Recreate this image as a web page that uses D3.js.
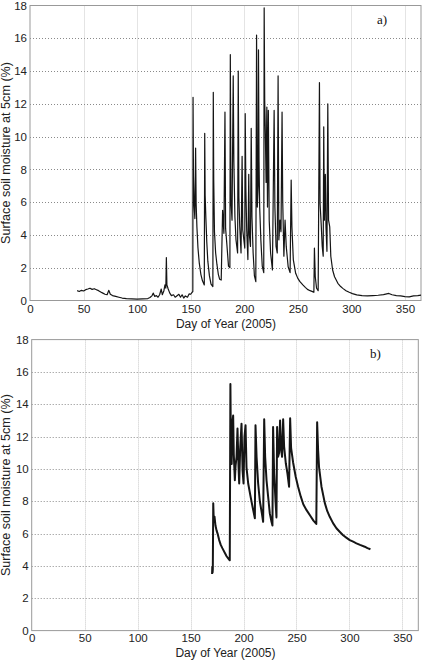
<!DOCTYPE html>
<html>
<head>
<meta charset="utf-8">
<script src="https://cdn.jsdelivr.net/npm/d3@7"></script>
<style>
  body { margin: 0; background: #fff; }
  svg { display: block; }
</style>
</head>
<body>
<div id="container"></div>
<script>
// tick values and texts
const xTicks = [0, 50, 100, 150, 200, 250, 300, 350];
const yTicks = [0, 2, 4, 6, 8, 10, 12, 14, 16, 18];
const xLabel = "Day of Year (2005)";
const yLabel = "Surface soil moisture at 5cm (%)";
const panelNames = ["a)", "b)"];

// panel a) : [day, moisture %]
const seriesA = [
  [44,0.6],[46,0.55],[48,0.62],[50,0.58],[52,0.66],[54,0.7],[56,0.75],[58,0.68],[60,0.72],[62,0.66],
  [64,0.6],[66,0.52],[68,0.45],[70,0.38],[72,0.35],[73.5,0.62],[75,0.38],[77,0.3],[80,0.25],[83,0.2],
  [86,0.15],[90,0.12],[95,0.1],[100,0.08],[105,0.1],[110,0.12],[112,0.18],[114,0.3],[115,0.45],[116.5,0.25],
  [118,0.3],[119.5,0.2],[121,0.35],[122.5,0.7],[123.5,0.35],[125,0.6],[126,0.95],[126.8,0.75],[127.3,2.62],[127.8,0.95],
  [129,0.7],[130.5,0.45],[132,0.3],[134,0.35],[135.5,0.2],[137,0.28],[139,0.38],[140.5,0.2],[142,0.35],[143.5,0.15],
  [145,0.28],[147,0.2],[148.5,0.4],[150,0.38],[151.3,0.5],
  [152,0.55],[152.2,12.4],[152.6,7.6],[153.2,5.8],[153.9,5.0],[154.6,9.3],[155.1,5.9],[155.8,4.5],[156.8,3.2],[158,2.3],
  [159.5,1.6],[161,1.2],[162.7,0.95],
  [163.1,10.2],[163.5,6.4],[164.2,5.0],[165,3.6],[166,2.4],[167.5,1.5],[169,1.0],[170.7,0.85],
  [171.1,12.7],[171.5,7.4],[172.2,4.2],[173.3,2.9],[174.5,2.2],[175.8,1.6],[177,1.3],[178.5,1.25],
  [179.8,5.5],[181,4.1],[182,11.5],[182.6,4.4],[183.8,3.4],[185.3,2.1],[186.6,2.0],
  [187,15.0],[187.6,6.1],[188.6,4.9],[189.7,13.7],[190.3,8.5],[191.3,5.1],[192.3,3.7],[193.8,2.9],
  [194.4,14.0],[195,6.3],[195.8,4.5],[197,2.9],[198,8.8],[198.6,4.3],[199.8,3.6],[200.5,3.2],
  [200.9,11.4],[201.5,6.9],[202.3,4.3],[203.4,2.5],[204.2,7.7],[204.8,4.0],[205.8,3.3],[206.5,10.5],[207.2,5.1],[208.3,2.9],
  [209.5,1.5],[210.8,1.15],
  [211.5,16.2],[212.2,5.7],[213.0,7.0],[213.3,15.3],[213.8,8.5],[214.4,5.7],[215.5,3.7],[216.8,2.1],[218.2,1.7],
  [218.6,17.85],[219.1,12.2],[219.7,10.2],[220.4,7.2],[221.1,11.8],[221.7,5.7],[222.5,11.6],[223.3,4.9],[224.6,2.9],[226.3,1.86],
  [227.9,11.6],[228.6,5.7],[229.7,3.3],[230.8,2.9],[231.6,13.7],[232.3,3.7],[233.4,4.9],[234.3,4.2],[235.3,11.5],[235.9,6.1],
  [237,2.7],[238.1,4.9],[239.2,3.3],[241,2.06],[242.8,1.7],
  [243.8,7.35],[244.5,4.5],[245.8,2.5],[248,1.66],[250,1.35],[252,1.15],[254.7,0.95],[257,0.8],[259,0.68],[261.5,0.6],
  [263.7,0.54],[265,0.5],[265.5,3.2],[266.3,1.45],[267.5,0.75],[269,0.6],
  [270.2,13.3],[270.8,5.9],[271.8,4.7],[272.8,3.3],[273.7,2.7],[274.2,10.6],[274.8,4.9],[275.7,7.7],[276.3,4.5],[277.2,3.0],
  [278,12.0],[278.7,4.9],[279.8,4.5],[280.8,2.7],[282.5,1.86],[284.3,1.45],[287.4,1.05],[290,0.85],[292,0.74],[295,0.6],
  [298,0.5],[301,0.42],[305,0.34],[310,0.3],[315,0.28],[320,0.3],[325,0.32],[330,0.36],[335,0.43],[338,0.35],
  [342,0.3],[346,0.28],[350,0.24],[354,0.22],[358,0.28],[362,0.3],[365,0.33]
];

// panel b) : [day, moisture %]
const seriesB = [
  [170.3,3.5],[170.5,3.95],[170.8,3.6],[171.0,3.8],[171.4,7.87],[171.8,7.0],[172.6,7.05],[173.5,6.5],[174.5,6.2],[175.5,6.0],
  [177,5.6],[178.5,5.3],[180,5.1],[182.4,4.8],[184,4.6],[185.5,4.47],[187,4.35],
  [187.6,15.25],[188.2,10.4],[188.8,10.3],[189.3,12.8],[190.2,13.3],[190.8,10.9],[191.8,9.3],[192.5,10.2],[193.4,10.75],
  [194.3,12.5],[195.3,10.1],[195.9,9.1],[196.8,11.2],[198.1,12.8],[199.1,9.9],[200,9.1],[200.9,12.0],[201.9,12.7],[202.8,10.1],
  [204.4,9.1],[206.6,8.3],[208.5,7.66],[210.7,6.95],
  [211.3,12.7],[212.3,10.75],[213.8,9.1],[215.4,8.0],[217.3,7.25],[218.5,6.73],
  [219.5,13.07],[220.4,10.75],[221.7,9.3],[223.2,8.3],[224.8,7.25],[226.4,6.73],[227.3,6.5],
  [227.9,12.6],[228.9,9.7],[230.2,8.0],[231.1,7.0],[231.7,12.6],[232.6,10.75],[233.6,11.0],[234.5,13.0],[235.5,11.2],
  [236.4,10.75],[237.4,13.07],[238.3,11.4],[239.9,10.35],[241.5,9.7],[243,8.9],
  [244,13.13],[244.9,11.3],[246.8,10.4],[249.3,9.5],[251.5,8.9],[254,8.3],[256.5,7.8],[259.5,7.45],[263,7.1],[266,6.8],
  [268.7,6.6],
  [269.5,12.88],[270.4,11.17],[271.3,10.1],[273.6,8.9],[276.7,7.9],[279,7.4],[281.4,7.04],[284.5,6.65],[287.7,6.33],[291,6.1],
  [294,5.9],[297,5.75],[300.3,5.6],[303.5,5.5],[306.6,5.4],[310,5.3],[314.4,5.19],[317,5.1],[319.8,5.03]
];

const width = 427, height = 665;

const panels = [
  { data: seriesA, name: panelNames[0], left: 30,   right: 421,   top: 5.5,   bottom: 300.5,
    lw: 1.2, nameX: 377, nameY: 24,  xLabY: 327.5, pad: 4 },
  { data: seriesB, name: panelNames[1], left: 31.7, right: 418.3, top: 339.6, bottom: 630.6,
    lw: 2.0, nameX: 370, nameY: 358, xLabY: 656.5, pad: 3.5 }
];

const svg = d3.select("#container")
  .append("svg")
    .attr("width", width)
    .attr("height", height)
    .attr("font-family", "'Liberation Sans', Arial, sans-serif");

panels.forEach(p => {
  const x = d3.scaleLinear().domain([0, 365]).range([p.left, p.right]);
  const y = d3.scaleLinear().domain([0, 18]).range([p.bottom, p.top]);
  const g = svg.append("g");

  // grid
  g.append("g")
      .attr("stroke", "#c8c8c8")
      .attr("stroke-width", 1)
      .attr("stroke-dasharray", "1,1")
    .selectAll("line")
    .data(xTicks.filter(d => d > 0))
    .join("line")
      .attr("x1", d => Math.round(x(d)) + 0.5)
      .attr("x2", d => Math.round(x(d)) + 0.5)
      .attr("y1", p.top)
      .attr("y2", p.bottom);

  g.append("g")
      .attr("stroke", "#8a8a8a")
      .attr("stroke-width", 1)
      .attr("stroke-dasharray", "1,2")
    .selectAll("line")
    .data(yTicks.filter(d => d > 0 && d < 18))
    .join("line")
      .attr("x1", p.left)
      .attr("x2", p.right)
      .attr("y1", d => Math.round(y(d)) + 0.5)
      .attr("y2", d => Math.round(y(d)) + 0.5);

  // box
  g.append("rect")
      .attr("x", p.left)
      .attr("y", p.top)
      .attr("width", p.right - p.left)
      .attr("height", p.bottom - p.top)
      .attr("fill", "none")
      .attr("stroke", "#999")
      .attr("stroke-width", 1);

  // axes
  const ax = g.append("g")
      .attr("transform", `translate(0,${p.bottom})`)
      .call(d3.axisBottom(x).tickValues(xTicks).tickSize(0).tickPadding(p.pad));
  const ay = g.append("g")
      .attr("transform", `translate(${p.left},0)`)
      .call(d3.axisLeft(y).tickValues(yTicks).tickSize(0).tickPadding(3));
  [ax, ay].forEach(a => {
    a.select(".domain").remove();
    a.selectAll("text")
      .attr("font-size", 11.5)
      .attr("font-family", "'Liberation Sans', Arial, sans-serif")
      .attr("fill", "#222");
  });

  // series
  const line = d3.line().x(d => x(d[0])).y(d => y(d[1]));
  g.append("path")
      .datum(p.data)
      .attr("d", line)
      .attr("fill", "none")
      .attr("stroke", "#151515")
      .attr("stroke-width", p.lw)
      .attr("stroke-linejoin", "round");

  // labels
  g.append("text")
      .attr("x", (p.left + p.right) / 2 + 0.5)
      .attr("y", p.xLabY)
      .attr("text-anchor", "middle")
      .attr("font-size", 12)
      .attr("fill", "#222")
      .text(xLabel);

  g.append("text")
      .attr("transform", `translate(10,${(p.top + p.bottom) / 2}) rotate(-90)`)
      .attr("text-anchor", "middle")
      .attr("font-size", 12.6)
      .attr("fill", "#222")
      .text(yLabel);

  g.append("text")
      .attr("x", p.nameX)
      .attr("y", p.nameY)
      .attr("font-family", "'Liberation Serif', 'Times New Roman', serif")
      .attr("font-size", 13)
      .attr("fill", "#111")
      .text(p.name);
});
</script>
</body>
</html>
